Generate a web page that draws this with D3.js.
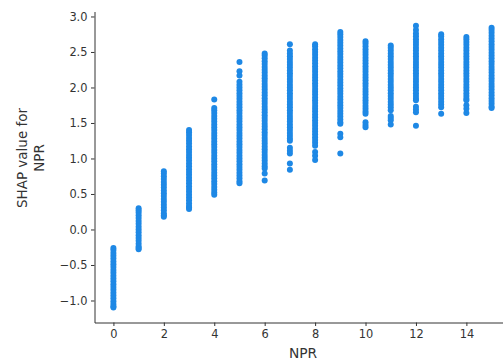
<!DOCTYPE html>
<html>
<head>
<meta charset="utf-8">
<script src="https://cdn.jsdelivr.net/npm/d3@7"></script>
<style>
  body { margin: 0; background: #fff; }
  svg { display: block; }
  .axis path, .axis line { stroke: #333333; }
</style>
</head>
<body>
<svg id="chart" width="503" height="362"></svg>
<script>
// NPR categories and the SHAP values
const npr = [0, 1, 2, 3, 4, 5, 6, 7, 8, 9, 10, 11, 12, 13, 14, 15];

const shap0 = [-0.26,-0.29,-0.33,-0.37,-0.41,-0.45,-0.49,-0.53,-0.57,-0.61,-0.65,-0.69,-0.73,-0.77,-0.81,-0.85,-0.89,-0.93,-0.97,-1.01,-1.05,-1.08,-1.10];
const shap1 = [0.30,0.27,0.24,0.20,0.16,0.12,0.08,0.04,0.00,-0.04,-0.08,-0.12,-0.16,-0.20,-0.24,-0.26,-0.28];
const shap2 = [0.82,0.79,0.75,0.71,0.67,0.63,0.59,0.55,0.51,0.47,0.43,0.39,0.35,0.31,0.27,0.23,0.20,0.18];
const shap3 = [1.40,1.37,1.33,1.29,1.25,1.21,1.17,1.13,1.09,1.05,1.01,0.97,0.93,0.89,0.85,0.81,0.77,0.73,0.69,0.65,0.61,0.57,0.53,0.49,0.45,0.41,0.37,0.33,0.31,0.29];
const shap4 = [1.83,1.71,1.68,1.64,1.60,1.56,1.52,1.48,1.44,1.40,1.36,1.32,1.28,1.24,1.20,1.16,1.12,1.08,1.04,1.00,0.96,0.92,0.88,0.84,0.80,0.76,0.72,0.68,0.64,0.60,0.56,0.52,0.49];
const shap5 = [2.36,2.23,2.17,2.08,2.04,2.00,1.96,1.92,1.88,1.84,1.80,1.76,1.72,1.68,1.64,1.60,1.56,1.52,1.48,1.44,1.40,1.36,1.32,1.28,1.24,1.20,1.16,1.12,1.08,1.04,1.00,0.96,0.92,0.88,0.84,0.80,0.76,0.72,0.68,0.65];
const shap6 = [2.48,2.45,2.41,2.37,2.33,2.29,2.25,2.21,2.17,2.13,2.09,2.05,2.01,1.97,1.93,1.89,1.85,1.81,1.77,1.73,1.69,1.65,1.61,1.57,1.53,1.49,1.45,1.41,1.37,1.33,1.29,1.25,1.21,1.17,1.13,1.09,1.05,1.01,0.97,0.93,0.89,0.86,0.79,0.69];
const shap7 = [2.61,2.52,2.48,2.44,2.40,2.36,2.32,2.28,2.24,2.20,2.16,2.12,2.08,2.04,2.00,1.96,1.92,1.88,1.84,1.80,1.76,1.72,1.68,1.64,1.60,1.56,1.52,1.48,1.44,1.40,1.36,1.32,1.28,1.25,1.15,1.11,1.07,0.93,0.84];
const shap8 = [2.61,2.58,2.54,2.50,2.46,2.42,2.38,2.34,2.30,2.26,2.22,2.18,2.14,2.10,2.06,2.02,1.98,1.94,1.90,1.86,1.82,1.78,1.74,1.70,1.66,1.62,1.58,1.54,1.50,1.46,1.42,1.38,1.34,1.30,1.26,1.22,1.18,1.09,1.04,0.98];
const shap9 = [2.78,2.75,2.71,2.67,2.63,2.59,2.55,2.51,2.47,2.43,2.39,2.35,2.31,2.27,2.23,2.19,2.15,2.11,2.07,2.03,1.99,1.95,1.91,1.87,1.83,1.79,1.75,1.71,1.67,1.63,1.59,1.55,1.51,1.49,1.35,1.30,1.07];
const shap10 = [2.65,2.62,2.58,2.54,2.50,2.46,2.42,2.38,2.34,2.30,2.26,2.22,2.18,2.14,2.10,2.06,2.02,1.98,1.94,1.90,1.86,1.82,1.78,1.74,1.70,1.66,1.63,1.51,1.47,1.44];
const shap11 = [2.59,2.56,2.52,2.48,2.44,2.40,2.36,2.32,2.28,2.24,2.20,2.16,2.12,2.08,2.04,2.00,1.96,1.92,1.88,1.84,1.80,1.76,1.72,1.68,1.60,1.57,1.54,1.48];
const shap12 = [2.87,2.81,2.76,2.72,2.68,2.64,2.60,2.56,2.52,2.48,2.44,2.40,2.36,2.32,2.28,2.24,2.20,2.16,2.12,2.08,2.04,2.00,1.96,1.92,1.88,1.84,1.82,1.73,1.69,1.65,1.46];
const shap13 = [2.75,2.72,2.68,2.64,2.60,2.56,2.52,2.48,2.44,2.40,2.36,2.32,2.28,2.24,2.20,2.16,2.12,2.08,2.04,2.00,1.96,1.92,1.88,1.84,1.80,1.76,1.72,1.63];
const shap14 = [2.71,2.68,2.64,2.60,2.56,2.52,2.48,2.44,2.40,2.36,2.32,2.28,2.24,2.20,2.16,2.12,2.08,2.04,2.00,1.96,1.92,1.88,1.84,1.82,1.75,1.70,1.64];
const shap15 = [2.84,2.81,2.77,2.73,2.69,2.65,2.61,2.57,2.53,2.49,2.45,2.41,2.37,2.33,2.29,2.25,2.21,2.17,2.13,2.09,2.05,2.01,1.97,1.93,1.89,1.85,1.81,1.77,1.73,1.71];

const shapColumns = [shap0, shap1, shap2, shap3, shap4, shap5, shap6, shap7,
                     shap8, shap9, shap10, shap11, shap12, shap13, shap14, shap15];

const xTicks = [0, 2, 4, 6, 8, 10, 12, 14];
const yTicks = [-1.0, -0.5, 0.0, 0.5, 1.0, 1.5, 2.0, 2.5, 3.0];

const font = "DejaVu Sans, sans-serif";
const svg = d3.select("#chart");

const x = d3.scaleLinear().domain([-0.75, 15.75]).range([94.5, 510.5]);
const y = d3.scaleLinear().domain([-1.31, 3.07]).range([322.5, 11.5]);

// flatten into points
const points = [];
npr.forEach((n, i) => {
    shapColumns[i].forEach((v) => points.push({ npr: n, shap: v }));
});

svg.append("g")
    .selectAll("circle")
    .data(points)
    .enter()
    .append("circle")
    .attr("cx", (d) => x(d.npr))
    .attr("cy", (d) => y(d.shap))
    .attr("r", 3)
    .attr("fill", "#1E88E5");

const gx = svg.append("g")
    .attr("class", "axis")
    .attr("transform", "translate(0,322.5)")
    .call(d3.axisBottom(x).tickValues(xTicks).tickSize(3.5).tickPadding(3.5).tickSizeOuter(0));
gx.attr("font-family", font).attr("font-size", "11.4px");
gx.selectAll("text").attr("fill", "#333333").attr("dy", "0.75em");

const gy = svg.append("g")
    .attr("class", "axis")
    .attr("transform", "translate(94.5,0)")
    .call(d3.axisLeft(y).tickValues(yTicks).tickSize(3.5).tickPadding(3.5).tickSizeOuter(0)
        .tickFormat((d) => d3.format(".1f")(d).replace("-", "\u2212")));
gy.attr("font-family", font).attr("font-size", "11.4px");
gy.selectAll("text").attr("fill", "#333333");

svg.append("text")
    .attr("x", 303)
    .attr("y", 358)
    .attr("text-anchor", "middle")
    .attr("fill", "#333333")
    .attr("font-family", font)
    .attr("font-size", "13.8px")
    .text("NPR");

const yl = svg.append("text")
    .attr("transform", "translate(0,158) rotate(-90)")
    .attr("text-anchor", "middle")
    .attr("fill", "#333333")
    .attr("font-family", font)
    .attr("font-size", "13.5px");
yl.append("tspan").attr("x", 0).attr("y", 27).text("SHAP value for");
yl.append("tspan").attr("x", 0).attr("y", 44).text("NPR");
</script>
</body>
</html>
